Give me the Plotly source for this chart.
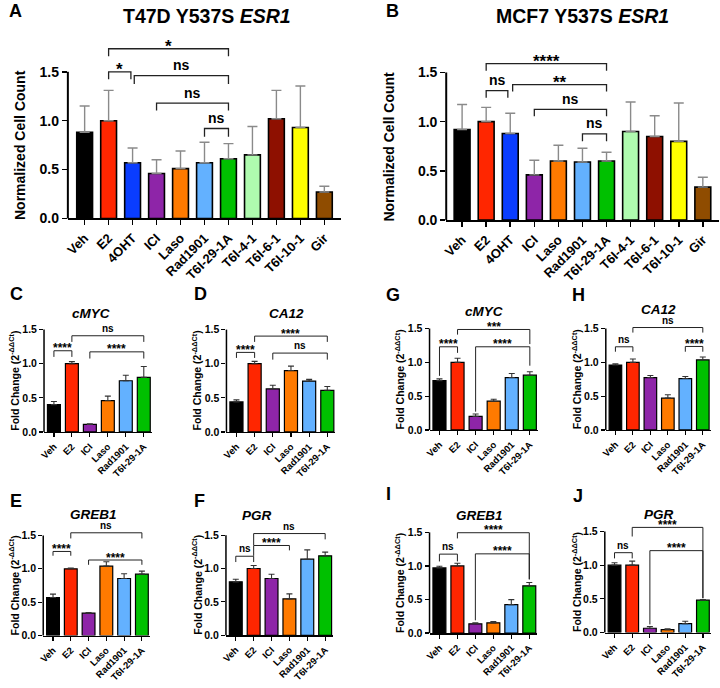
import plotly.graph_objects as go

W, H = 720, 688
FONT = "Arial, Liberation Sans, Helvetica, sans-serif"

# ---------------- data ----------------
big_labels = ["Veh", "E2", "4OHT", "ICI", "Laso", "Rad1901", "T6I-29-1A",
              "T6I-4-1", "T6I-6-1", "T6I-10-1", "Gir"]
big_colors = ["#000000", "#FF2600", "#0A3DFF", "#8E25A8", "#FF7A00", "#63B1FF",
              "#00C000", "#AFFBAF", "#8E1000", "#FFFF00", "#8F4C00"]

small_labels = ["Veh", "E2", "ICI", "Laso", "Rad1901", "T6I-29-1A"]
small_colors = ["#000000", "#FF2600", "#8E25A8", "#FF7A00", "#63B1FF", "#00C000"]

# Panel A: T47D Y537S ESR1 normalized cell count
t47d_mean = [0.88, 1.00, 0.57, 0.46, 0.51, 0.57, 0.61, 0.65, 1.02, 0.93, 0.27]
t47d_sd = [0.27, 0.31, 0.15, 0.14, 0.18, 0.21, 0.155, 0.29, 0.29, 0.425, 0.06]
# Panel B: MCF7 Y537S ESR1 normalized cell count
mcf7_mean = [0.92, 1.00, 0.88, 0.46, 0.60, 0.59, 0.60, 0.90, 0.85, 0.80, 0.335]
mcf7_sd = [0.255, 0.145, 0.205, 0.148, 0.16, 0.14, 0.09, 0.30, 0.21, 0.39, 0.10]

# qPCR fold change (2^-ddCt)
c_mean = [0.40, 1.00, 0.11, 0.46, 0.75, 0.80]
c_sd = [0.045, 0.03, 0.01, 0.065, 0.08, 0.16]
d_mean = [0.44, 1.00, 0.63, 0.90, 0.745, 0.61]
d_sd = [0.03, 0.035, 0.055, 0.065, 0.025, 0.055]
e_mean = [0.57, 1.00, 0.335, 1.04, 0.855, 0.92]
e_sd = [0.05, 0.01, 0.01, 0.065, 0.07, 0.045]
f_mean = [0.80, 1.00, 0.85, 0.545, 1.14, 1.19]
f_sd = [0.04, 0.045, 0.065, 0.075, 0.14, 0.055]
g_mean = [0.73, 1.00, 0.20, 0.425, 0.775, 0.81]
g_sd = [0.025, 0.06, 0.035, 0.03, 0.06, 0.05]
h_mean = [0.96, 1.00, 0.775, 0.47, 0.76, 1.035]
h_sd = [0.02, 0.05, 0.03, 0.05, 0.03, 0.045]
i_mean = [0.97, 1.00, 0.138, 0.152, 0.423, 0.703]
i_sd = [0.025, 0.04, 0.015, 0.02, 0.075, 0.05]
j_mean = [1.00, 1.00, 0.064, 0.044, 0.132, 0.48]
j_sd = [0.035, 0.06, 0.025, 0.01, 0.035, 0.01]

# significance brackets: (from, to, bracket height, left leg end, right leg end, label)
a_brackets = [(1, 6, 1.736, 1.66, 1.66, "*"),
              (1, 1.93, 1.50, 1.425, 1.425, "*"),
              (2.07, 6, 1.46, 1.375, 1.375, "ns"),
              (3, 6, 1.18, 1.105, 1.105, "ns"),
              (5, 6, 0.92, 0.835, 0.835, "ns")]
b_brackets = [(1, 6, 1.59, 1.517, 1.517, "****"),
              (1, 1.9, 1.316, 1.242, 1.242, "ns"),
              (2.1, 6, 1.376, 1.306, 1.306, "**"),
              (3, 6, 1.125, 1.055, 1.055, "ns"),
              (5, 6, 0.877, 0.80, 0.80, "ns")]
c_brackets = [(0, 1, 1.19, 1.10, 1.10, "****"),
              (1, 5, 1.41, 1.32, 1.32, "ns"),
              (2, 5, 1.174, 1.076, 1.076, "****")]
d_brackets = [(0, 1, 1.166, 1.085, 1.085, "****"),
              (1, 5, 1.405, 1.32, 1.32, "****"),
              (2, 5, 1.156, 1.06, 1.06, "ns")]
e_brackets = [(0, 1, 1.26, 1.196, 1.196, "****"),
              (1, 5, 1.54, 1.455, 1.455, "ns"),
              (2, 5, 1.132, 1.06, 1.06, "****")]
f_brackets = [(0, 1, 1.184, 1.097, 1.097, "ns"),
              (1, 3, 1.345, 1.19, 1.272, "****"),
              (1, 5, 1.524, 1.35, 1.437, "ns")]
g_brackets = [(0, 1, 1.23, 0.80, 1.14, "****"),
              (1, 5, 1.486, 1.41, 1.27, "***"),
              (2, 5, 1.23, 0.27, 0.95, "****")]
h_brackets = [(0, 1, 1.23, 1.157, 1.157, "ns"),
              (1, 5, 1.515, 1.44, 1.44, "ns"),
              (4, 5, 1.235, 1.157, 1.157, "****")]
i_brackets = [(0, 1, 1.176, 1.067, 1.067, "ns"),
              (1, 5, 1.495, 1.41, 0.80, "****"),
              (2, 5, 1.18, 0.19, 0.80, "****")]
j_brackets = [(0, 1, 1.185, 1.10, 1.10, "ns"),
              (1, 5, 1.56, 1.425, 0.51, "****"),
              (2, 5, 1.215, 0.12, 0.51, "****")]

y_ticks = [0, 0.5, 1.0, 1.5]

# ---------------- layout geometry (pixels) ----------------
panels = [
    dict(labels=big_labels, colors=big_colors, mean=t47d_mean, sd=t47d_sd, br=a_brackets, big=True,
         xl=63.3, xr=338.0, xrange=[-0.7, 10.68], y0=221.0, per=98.9, ymax=1.9,
         title="<b>T47D Y537S <i>ESR1</i></b>", txy=(203, 16.5), letter="A", lxy=(2, 11), ytx=15),
    dict(labels=big_labels, colors=big_colors, mean=mcf7_mean, sd=mcf7_sd, br=b_brackets, big=True,
         xl=444.3, xr=718.7, xrange=[-0.66, 10.66], y0=222.7, per=99.6, ymax=1.9,
         title="<b>MCF7 Y537S <i>ESR1</i></b>", txy=(581.5, 16.5), letter="B", lxy=(382, 11), ytx=387),
    dict(labels=small_labels, colors=small_colors, mean=c_mean, sd=c_sd, br=c_brackets, big=False,
         xl=39.3, xr=147.9, xrange=[-0.55, 5.45], y0=437.0, per=69.0, ymax=1.75,
         title="<b><i>cMYC</i></b>", txy=(86.7, 317.5), letter="C", lxy=(3, 297), ytx=9),
    dict(labels=small_labels, colors=small_colors, mean=d_mean, sd=d_sd, br=d_brackets, big=False,
         xl=223.0, xr=332.8, xrange=[-0.55, 5.45], y0=437.0, per=69.0, ymax=1.75,
         title="<b><i>CA12</i></b>", txy=(283, 317.5), letter="D", lxy=(188, 297), ytx=193),
    dict(labels=small_labels, colors=small_colors, mean=e_mean, sd=e_sd, br=e_brackets, big=False,
         xl=38.5, xr=145.9, xrange=[-0.55, 5.45], y0=643.0, per=67.5, ymax=1.75,
         title="<b><i>GREB1</i></b>", txy=(89.2, 520.5), letter="E", lxy=(3, 506.5), ytx=9),
    dict(labels=small_labels, colors=small_colors, mean=f_mean, sd=f_sd, br=f_brackets, big=False,
         xl=222.5, xr=330.5, xrange=[-0.55, 5.45], y0=642.7, per=67.5, ymax=1.75,
         title="<b><i>PGR</i></b>", txy=(254, 521.5), letter="F", lxy=(188, 506.5), ytx=193),
    dict(labels=small_labels, colors=small_colors, mean=g_mean, sd=g_sd, br=g_brackets, big=False,
         xl=427.5, xr=536.7, xrange=[-0.55, 5.45], y0=435.0, per=68.4, ymax=1.75,
         title="<b><i>cMYC</i></b>", txy=(482.5, 315), letter="G", lxy=(382, 298), ytx=397),
    dict(labels=small_labels, colors=small_colors, mean=h_mean, sd=h_sd, br=h_brackets, big=False,
         xl=605.0, xr=710.6, xrange=[-0.55, 5.45], y0=435.0, per=68.4, ymax=1.75,
         title="<b><i>CA12</i></b>", txy=(658, 313.5), letter="H", lxy=(569, 298), ytx=575),
    dict(labels=small_labels, colors=small_colors, mean=i_mean, sd=i_sd, br=i_brackets, big=False,
         xl=427.5, xr=536.1, xrange=[-0.55, 5.45], y0=640.5, per=67.9, ymax=1.75,
         title="<b><i>GREB1</i></b>", txy=(478, 522), letter="I", lxy=(382, 500), ytx=397),
    dict(labels=small_labels, colors=small_colors, mean=j_mean, sd=j_sd, br=j_brackets, big=False,
         xl=604.0, xr=710.8, xrange=[-0.55, 5.45], y0=640.0, per=68.2, ymax=1.75,
         title="<b><i>PGR</i></b>", txy=(659, 521), letter="J", lxy=(570, 502), ytx=575),
]


def px(x):
    return x / W


def py(y):
    return 1 - y / H


fig = go.Figure()
layout_axes = {}
shapes = []
annotations = []

for k, p in enumerate(panels):
    idx = "" if k == 0 else str(k + 1)
    xa, ya = "x" + idx, "y" + idx
    big = p["big"]
    n = len(p["labels"])
    top_px = p["y0"] - p["ymax"] * p["per"]

    fig.add_trace(go.Bar(
        x=list(range(n)), y=p["mean"], xaxis=xa, yaxis=ya,
        width=0.66 if big else 0.72,
        marker=dict(color=p["colors"], line=dict(color="black", width=1.6 if big else 1.2)),
        error_y=dict(type="data", array=p["sd"], arrayminus=[0] * n, symmetric=False,
                     color="#8a8a8a" if big else "#333333",
                     thickness=1.4 if big else 1.1, width=5 if big else 3),
        hoverinfo="skip", showlegend=False,
    ))

    layout_axes["xaxis" + idx] = dict(
        domain=[px(p["xl"]), px(p["xr"])], anchor=ya, range=p["xrange"],
        tickvals=list(range(n)), ticktext=p["labels"], tickangle=-45,
        ticks="outside", ticklen=5 if big else 4, tickwidth=1.6 if big else 1.2, tickcolor="black",
        showline=True, linecolor="black", linewidth=2 if big else 1.5,
        showgrid=False, zeroline=False, fixedrange=True,
        tickfont=dict(family=FONT, size=13 if big else 9.5, color="black", weight="bold"),
    )
    layout_axes["yaxis" + idx] = dict(
        domain=[py(p["y0"]), py(top_px)], anchor=xa, range=[0, p["ymax"]],
        tickvals=y_ticks, tickformat=".1f",
        ticks="outside", ticklen=5 if big else 4, tickwidth=1.6 if big else 1.2, tickcolor="black",
        showline=False, showgrid=False, zeroline=False, fixedrange=True,
        tickfont=dict(family=FONT, size=14 if big else 10.5, color="black", weight="bold"),
    )

    # Prism-style y axis line from 0 to 1.5
    shapes.append(dict(type="line", xref="paper", yref="paper",
                       x0=px(p["xl"]), x1=px(p["xl"]),
                       y0=py(p["y0"]), y1=py(p["y0"] - max(y_ticks) * p["per"]),
                       line=dict(color="black", width=2 if big else 1.5)))

    # significance brackets
    for (a, b, hgt, la, lb, lab) in p["br"]:
        shapes.append(dict(type="path", xref=xa, yref=ya,
                           path=f"M {a},{la} L {a},{hgt} L {b},{hgt} L {b},{lb}",
                           line=dict(color="#222222", width=1.3 if big else 1.0)))
        star = lab.startswith("*")
        if big:
            fs, ys = (17, 2.5) if star else (14, 10.5)
        else:
            fs, ys = (12, 2.5) if star else (10, 7.5)
        annotations.append(dict(x=(a + b) / 2, y=hgt, xref=xa, yref=ya, text=lab,
                                showarrow=False, yanchor="middle", xanchor="center", yshift=ys,
                                font=dict(family=FONT, size=fs, color="black", weight="bold")))

    # panel title
    annotations.append(dict(x=px(p["txy"][0]), y=py(p["txy"][1]), xref="paper", yref="paper",
                            text=p["title"], showarrow=False, xanchor="center", yanchor="middle",
                            font=dict(family=FONT, size=19.5 if big else 13.5, color="black")))
    # panel letter
    annotations.append(dict(x=px(p["lxy"][0]), y=py(p["lxy"][1]), xref="paper", yref="paper",
                            text="<b>" + p["letter"] + "</b>", showarrow=False,
                            xanchor="left", yanchor="middle",
                            font=dict(family=FONT, size=18, color="black")))
    # y-axis title
    ytitle = "Normalized Cell Count" if big else "Fold Change (2<sup>-ΔΔCt</sup>)"
    annotations.append(dict(x=px(p["ytx"]), y=py(p["y0"] - 0.75 * p["per"]), xref="paper", yref="paper",
                            text=ytitle, textangle=-90, showarrow=False,
                            xanchor="center", yanchor="middle",
                            font=dict(family=FONT, size=14 if big else 10.5, color="black", weight="bold")))

fig.update_layout(
    width=W, height=H, margin=dict(l=0, r=0, t=0, b=0),
    paper_bgcolor="white", plot_bgcolor="white", showlegend=False,
    bargap=0, shapes=shapes, annotations=annotations, **layout_axes,
)

fig.write_html(
    "out.html",
    config={"displayModeBar": False, "staticPlot": True},
    post_script="document.body.style.margin='0';document.body.style.padding='0';"
                "document.body.style.overflow='hidden';",
)
